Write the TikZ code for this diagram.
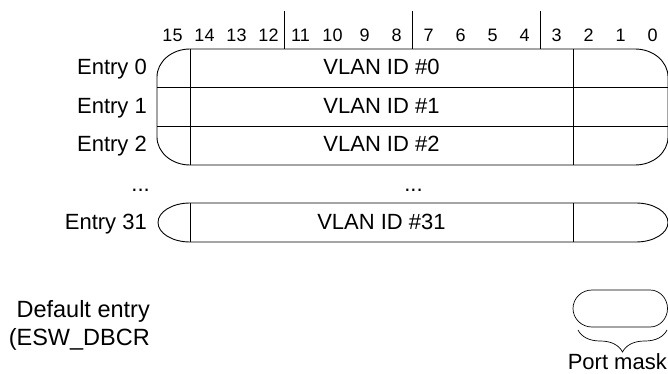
\documentclass[tikz,border=0pt]{standalone}
\usepackage{fontspec}
\setmainfont{Liberation Sans}
\usetikzlibrary{decorations.pathreplacing}
\begin{document}
\begin{tikzpicture}[x=1pt,y=1pt,
  lbl/.style={inner sep=0pt,font=\fontsize{22}{26}\selectfont},
  biglbl/.style={inner sep=0pt,font=\fontsize{23.5}{28}\selectfont},
  bit/.style={inner sep=0pt,anchor=base,font=\fontsize{18}{21}\selectfont},
  ln/.style={line width=0.9pt},
  thin/.style={line width=0.7pt}]
\useasboundingbox (0,0) rectangle (668,-374);
% bit numbers
\foreach \i in {0,...,15} {
  \node[bit] (b\i) at ({652.5-32*\i},-42) {\i};
}
% ticks
\foreach \t/\x in {a/284.5,b/412.5,c/540.5} {
  \coordinate (t\t1) at (\x,-11);
  \coordinate (t\t2) at (\x,-49);
  \draw[thin] (t\t1) -- (t\t2);
}
% top block
\draw[ln] (190,-49) -- (635,-49) arc[start angle=90,end angle=0,x radius=33,y radius=28]
  -- (668,-137) arc[start angle=0,end angle=-90,x radius=33,y radius=28]
  -- (190,-165) arc[start angle=270,end angle=180,x radius=33,y radius=28]
  -- (157,-77) arc[start angle=180,end angle=90,x radius=33,y radius=28] -- cycle;
\draw[thin] (190,-49) -- (190,-165);
\draw[thin] (573,-49) -- (573,-165);
\draw[ln] (157,-87.5) -- (668,-87.5);
\draw[ln] (157,-126) -- (668,-126);
% row texts
\node[lbl,anchor=base] (v0) at (381.5,-75) {VLAN ID \#0};
\node[lbl,anchor=base] (v1) at (381.5,-113.5) {VLAN ID \#1};
\node[lbl,anchor=base] (v2) at (381.5,-152) {VLAN ID \#2};
\node[lbl,anchor=base east] (e0) at (147,-75) {Entry 0};
\node[lbl,anchor=base east] (e1) at (147,-113.5) {Entry 1};
\node[lbl,anchor=base east] (e2) at (147,-152) {Entry 2};
\node[lbl,anchor=base east] (d1) at (150,-191) {...};
\node[lbl,anchor=base] (d2) at (413.5,-191) {...};
% entry 31
\draw[ln] (190,-203) -- (636,-203) arc[start angle=90,end angle=-90,x radius=32,y radius=19.5]
  -- (190,-242) arc[start angle=270,end angle=90,x radius=32,y radius=19.5];
\draw[thin] (190,-203) -- (190,-242);
\draw[thin] (573,-203) -- (573,-242);
\node[lbl,anchor=base east] (e31) at (147,-229) {Entry 31};
\node[lbl,anchor=base] (v31) at (381.5,-229) {VLAN ID \#31};
% default entry
\node[biglbl,anchor=base east] (de1) at (150,-317) {Default entry};
\node[biglbl,anchor=base east] (de2) at (150,-345) {(ESW\_DBCR};
% port mask
\draw[thin] (592,-290) -- (650,-290) arc[start angle=90,end angle=-90,x radius=17.5,y radius=18.5]
  -- (592,-327) arc[start angle=270,end angle=90,x radius=19,y radius=18.5];
\coordinate (bl) at (578,-330);
\coordinate (br) at (667,-330);
\draw[thin,decorate,decoration={brace,mirror,amplitude=22pt}] (bl) -- (br);
\node[lbl,anchor=base east] (pm) at (667,-369) {Port mask};
\end{tikzpicture}
\end{document}
